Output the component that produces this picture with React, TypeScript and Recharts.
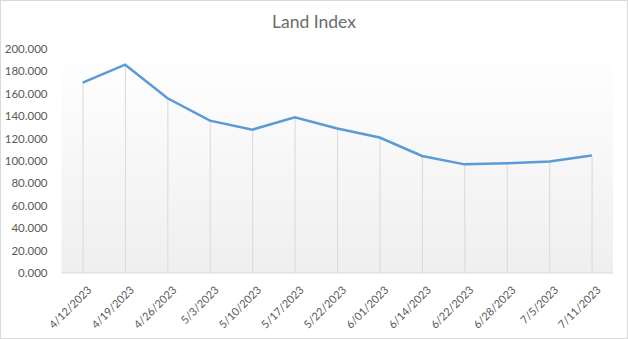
import React from "react";
import { ComposedChart, Line, Bar, XAxis, YAxis, CartesianGrid } from "recharts";

const dates = [
  "4/12/2023", "4/19/2023", "4/26/2023", "5/3/2023", "5/10/2023", "5/17/2023", "5/22/2023",
  "6/01/2023", "6/14/2023", "6/22/2023", "6/28/2023", "7/5/2023", "7/11/2023",
];
const landIndex = [170, 186, 156, 136, 128, 139, 129, 121, 104.5, 97, 98, 99.5, 105];
const yTicks = [0, 20, 40, 60, 80, 100, 120, 140, 160, 180, 200];

const data = dates.map((date, i) => ({ date, value: landIndex[i] }));

const FONT = "Lato, 'Liberation Sans', sans-serif";
const TEXT = "#595959";

const DateTick = (props: any) => {
  const { x, y, payload } = props;
  return (
    <g transform={`translate(${x + 4},${y + 4})`}>
      <text
        transform="rotate(-45)"
        textAnchor="end"
        dy={8}
        fill={TEXT}
        fontSize={11}
        fontFamily={FONT}
      >
        {payload.value}
      </text>
    </g>
  );
};

export default function App() {
  return (
    <div style={{ position: "absolute", left: 0, top: 0, width: 628, height: 339 }}>
      <div
        style={{
          position: "absolute",
          left: 0,
          top: 0,
          width: 626,
          height: 337,
          border: "1px solid #d9d9d9",
          background: "#fff",
        }}
      />
      <div
        style={{
          position: "absolute",
          left: 0,
          top: 11,
          width: 628,
          textAlign: "center",
          fontFamily: FONT,
          fontSize: 17.5,
          lineHeight: "22px",
          color: "#6b6b6b",
        }}
      >
        Land Index
      </div>
      <div style={{ position: "absolute", left: 0, top: 0 }}>
        <ComposedChart
          width={628}
          height={339}
          data={data}
          margin={{ top: 49, right: 15, bottom: 0, left: 0 }}
        >
          <defs>
            <linearGradient id="plotBg" x1="0" y1="0" x2="0" y2="1">
              <stop offset="0%" stopColor="#ffffff" />
              <stop offset="100%" stopColor="#efefef" />
            </linearGradient>
          </defs>
          <CartesianGrid horizontal={false} vertical={false} fill="url(#plotBg)" stroke="none" />
          <XAxis
            dataKey="date"
            interval={0}
            height={66}
            tick={<DateTick />}
            tickLine={false}
            axisLine={{ stroke: "#d9d9d9" }}
          />
          <YAxis
            width={61.5}
            domain={[0, 200]}
            ticks={yTicks}
            interval={0}
            tickFormatter={(v: number) => v.toFixed(3)}
            tick={{ fill: TEXT, fontSize: 11.5, fontFamily: FONT }}
            tickLine={false}
            axisLine={false}
            tickMargin={8}
          />
          <Bar dataKey="value" barSize={1} fill="#d9d9d9" isAnimationActive={false} />
          <Line
            type="linear"
            dataKey="value"
            stroke="#5b9bd5"
            strokeWidth={2.5}
            dot={false}
            activeDot={false}
            isAnimationActive={false}
          />
        </ComposedChart>
      </div>
    </div>
  );
}
